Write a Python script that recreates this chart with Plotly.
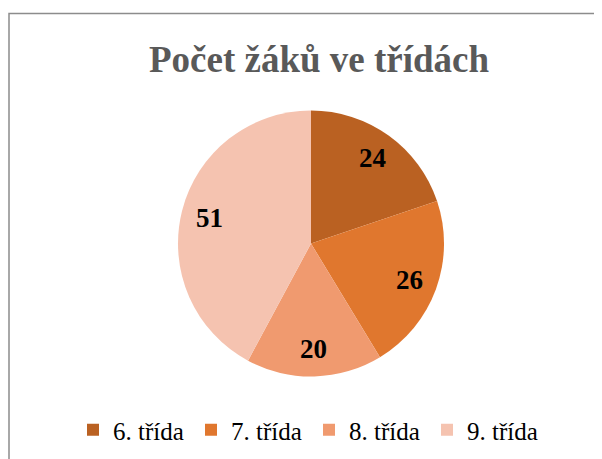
import math
import plotly.graph_objects as go

categories = ["6. třída", "7. třída", "8. třída", "9. třída"]
values = [24, 26, 20, 51]
colors = ["#BA6122", "#E0772E", "#F09A6F", "#F5C3B0"]
title_text = "Počet žáků ve třídách"

SERIF = "Liberation Serif"
W, H = 602, 459
# pie domain in pixels (figure coordinates)
px0, px1, py_top, py_bot = 170, 436, 102, 369
fig = go.Figure(go.Pie(
    labels=categories, values=values, sort=False, direction="clockwise", rotation=0,
    marker=dict(colors=colors, line=dict(width=0)),
    textinfo="none",
    domain=dict(x=[px0/W, px1/W], y=[1-py_bot/H, 1-py_top/H]),
    hoverinfo="label+value",
))

# value labels placed at slice mid-angles, derived from the data
cx = (px0 + px1) / 2
cy = (py_top + py_bot) / 2
R = min(px1 - px0, py_bot - py_top) / 2
total = sum(values)
anns = []
cum = 0
for v in values:
    mid = (cum + v / 2) / total * 2 * math.pi
    cum += v
    lx = cx + 0.79 * R * math.sin(mid)
    ly = cy - 0.79 * R * math.cos(mid)
    anns.append(dict(text="<b>%d</b>" % v, x=lx/W, y=1-ly/H, xref="paper", yref="paper",
                     xanchor="center", yanchor="middle", showarrow=False,
                     font=dict(family=SERIF, size=27, color="black")))
anns.append(dict(text="<b>" + title_text + "</b>", x=(301+10)/W, xref="paper", y=1-52/H, yref="paper",
                 xanchor="center", yanchor="middle", showarrow=False,
                 font=dict(family=SERIF, size=37, color="#595959")))

fig.update_layout(
    width=W, height=H, margin=dict(l=0, r=0, t=0, b=0, autoexpand=False),
    paper_bgcolor="white", plot_bgcolor="white",
    showlegend=True,
    legend=dict(orientation="h", x=0.5, xanchor="center", y=1-422/H, yanchor="middle",
                font=dict(family=SERIF, size=25, color="black"),
                entrywidth=73, entrywidthmode="pixels", itemwidth=30),
    annotations=anns,
    shapes=[dict(type="rect", xref="paper", yref="paper", x0=1/W, y0=-0.05, x1=1.05, y1=1-5.5/H,
                 line=dict(color="#8C8C8C", width=1.5), fillcolor="rgba(0,0,0,0)")],
)
fig.write_html("out.html")
